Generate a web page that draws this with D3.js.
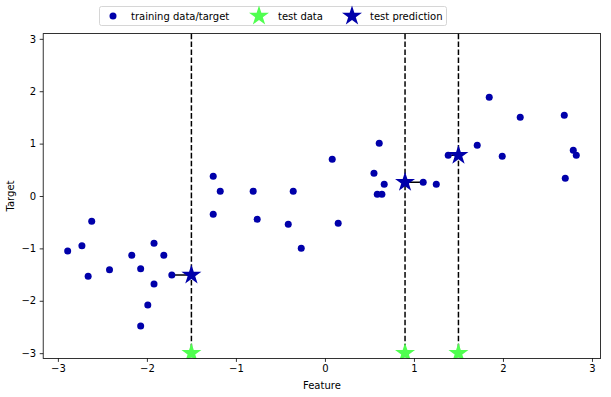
<!DOCTYPE html>
<html><head><meta charset="utf-8">
<script src="https://cdn.jsdelivr.net/npm/d3@7"></script>
<style>body{margin:0;background:#fff}svg{display:block;font-family:"DejaVu Sans",sans-serif}</style>
</head><body><svg id="c" width="611" height="397"></svg>
<script>
const trainX = [-2.89,-2.73,-2.66,-2.62,-2.42,-2.17,-2.07,-2.07,-1.99,-1.92,-1.92,-1.81,-1.72,
  -1.255,-1.255,-1.176,-0.806,-0.761,-0.412,-0.356,-0.266,0.082,0.149,
  0.551,0.610,0.588,0.640,0.666,
  1.104,1.251,1.385,1.711,1.846,1.992,2.194,2.689,2.700,2.790,2.824];
const trainY = [-1.05,-0.95,-1.53,-0.48,-1.41,-1.13,-1.39,-2.48,-2.08,-0.90,-1.68,-1.13,-1.51,
  0.376,-0.349,0.09,0.09,-0.445,-0.540,0.09,-0.998,0.70,-0.521,
  0.433,1.006,0.032,0.032,0.223,
  0.261,0.223,0.777,0.968,1.884,0.758,1.502,1.540,0.338,0.872,0.777];
const testX = [-1.5, 0.9, 1.5];
const testY = [-3, -3, -3];
const predY = [-1.51, 0.261, 0.777];
const nbX = [-1.72, 1.104, 1.385];
const xTicks = [-3,-2,-1,0,1,2,3];
const yTicks = [-3,-2,-1,0,1,2,3];
const legendLabels = ["training data/target","test data","test prediction"];

const blue = "#0000aa", green = "#50ff50";
const L=43.2, R=600.6, T=33.6, B=358.4;
const svg = d3.select("#c");
const x = d3.scaleLinear().domain([-3.165,3.097]).range([L,R]);
const y = d3.scaleLinear().domain([-3.1,3.1]).range([B,T]);

svg.append("defs").append("clipPath").attr("id","clip").append("rect")
  .attr("x",L).attr("y",T).attr("width",R-L).attr("height",B-T);

function starPath(r){
  const ri = r*0.381966; let p="";
  for(let i=0;i<10;i++){
    const rr = i%2===0 ? r : ri;
    const a = -Math.PI/2 + i*Math.PI/5;
    p += (i===0?"M":"L") + (rr*Math.cos(a)).toFixed(3)+","+(rr*Math.sin(a)).toFixed(3);
  }
  return p+"Z";
}

const g = svg.append("g").attr("clip-path","url(#clip)");
// dashed vertical lines
g.selectAll("line.v").data(testX).join("line")
  .attr("x1",d=>x(d)).attr("x2",d=>x(d)).attr("y1",T).attr("y2",B)
  .attr("stroke","#000").attr("stroke-width",1.5).attr("stroke-dasharray","5.55,2.4");
// neighbor lines
g.selectAll("line.n").data(testX).join("line")
  .attr("x1",(d,i)=>x(nbX[i])).attr("x2",d=>x(d))
  .attr("y1",(d,i)=>y(predY[i])).attr("y2",(d,i)=>y(predY[i]))
  .attr("stroke","#000").attr("stroke-width",1.5);
// training points
g.selectAll("circle").data(trainX).join("circle")
  .attr("cx",d=>x(d)).attr("cy",(d,i)=>y(trainY[i])).attr("r",3.5).attr("fill",blue);
// test data stars
g.selectAll("path.t").data(testX).join("path").attr("class","t")
  .attr("d",starPath(10.5)).attr("transform",(d,i)=>`translate(${x(d)},${y(testY[i])})`)
  .attr("fill",green);
// prediction stars
g.selectAll("path.p").data(testX).join("path").attr("class","p")
  .attr("d",starPath(10.5)).attr("transform",(d,i)=>`translate(${x(d)},${y(predY[i])})`)
  .attr("fill",blue);

// axes
const fmt = d=>String(d).replace("-","\u2212");
const ax = svg.append("g").attr("transform",`translate(0,${B})`)
  .call(d3.axisBottom(x).tickValues(xTicks).tickFormat(fmt).tickSize(3.5).tickPadding(3.5));
const ay = svg.append("g").attr("transform",`translate(${L},0)`)
  .call(d3.axisLeft(y).tickValues(yTicks).tickFormat(fmt).tickSize(3.5).tickPadding(3.5));
[ax,ay].forEach(a=>{
  a.select(".domain").remove();
  a.selectAll("text").attr("font-size",10).attr("fill","#000").attr("font-family","DejaVu Sans");
  a.selectAll("line").attr("stroke","#000").attr("stroke-width",0.8);
});
svg.append("rect").attr("x",L).attr("y",T).attr("width",R-L).attr("height",B-T)
  .attr("fill","none").attr("stroke","#000").attr("stroke-width",0.8);

svg.append("text").attr("x",(L+R)/2).attr("y",389).attr("text-anchor","middle")
  .attr("font-size",10).text("Feature");
svg.append("text").attr("transform",`translate(14,${(T+B)/2}) rotate(-90)`)
  .attr("text-anchor","middle").attr("font-size",10).text("Target");

// legend
const lg = svg.append("g");
lg.append("rect").attr("x",99.5).attr("y",6.5).attr("width",347).attr("height",19).attr("rx",2)
  .attr("fill","#fff").attr("fill-opacity",0.8).attr("stroke","#ccc").attr("stroke-width",0.8);
const itemX = [113, 259, 352];
const textX = [131, 278, 370];
itemX.forEach((cx,i)=>{
  if(i===0) lg.append("circle").attr("cx",cx).attr("cy",16).attr("r",3.5).attr("fill",blue);
  else lg.append("path").attr("d",starPath(10.5)).attr("transform",`translate(${cx},16)`)
    .attr("fill", i===1?green:blue);
  lg.append("text").attr("x",textX[i]).attr("y",19.5).attr("font-size",10).text(legendLabels[i]);
});
</script></body></html>
